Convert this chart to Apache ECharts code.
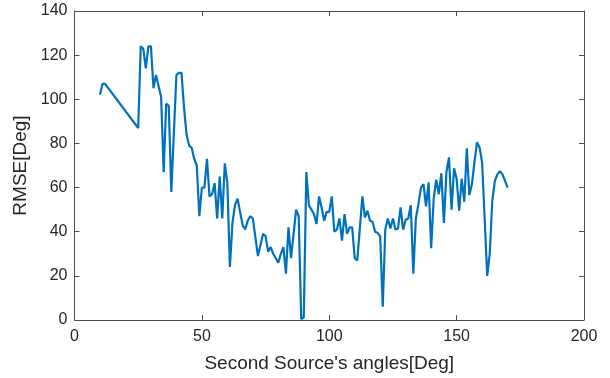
<!DOCTYPE html>
<html>
<head>
<meta charset="utf-8">
<script src="https://cdn.jsdelivr.net/npm/echarts@6/dist/echarts.min.js"></script>
<style>
html,body{margin:0;padding:0;background:#fff;}
#chart{width:610px;height:378px;}
</style>
</head>
<body>
<div id="chart"></div>
<script>
// Angles (deg) and RMSE (deg)
var angles = [10,11,12,25,26,27,28,29,30,31,32,33,34,35,36,37,38,40,41,42,43,44,45,46,47,48,49,50,51,52,53,54,55,56,57,58,59,60,61,62,63,64,65,66,67,68,69,70,72,73,74,75,76,77,78,79,80,81,82,83,84,85,87,88,89,90,91,92,93,94,95,96,97,98,99,100,101,102,103,104,105,106,107,108,109,110,111,113,114,115,116,117,118,119,120,121,122,123,124,125,126,127,128,129,130,131,132,133,134,135,136,137,138,139,140,141,142,143,144,145,146,147,148,149,150,151,152,153,154,155,156,157,158,159,160,161,162,163,164,165,166,167,168,169,170];
var rmse = [102,107,107,87,124,123,114,124,124,105,111,106,101,67,98,97,58,111,112,112,96,84,79,78,73,70,47,60,60,73,56,57,62,46,65,46,71,62,24,44,52,55,49,43,41,45,47,46,29,34,39,38,31,33,30,28,26,30,33,21,42,28,50,47,0.5,1,67,52,50,48,43.5,56,51,45,49,49,56,40,41,46,36,48,39,42,42,28,27,56,46.5,49.5,45,44.5,40,39.4,38,6,41,46,41.5,46,41,41.5,51,41,45.4,46,52,21,46,52.5,60,61.6,51.5,62.4,32.5,55,63.6,57,66.5,44,67,73.7,50,68.7,64,49.5,64,53.6,77.8,56.6,61.6,71.5,80.5,78.2,71.5,46,20,30,54,63,66,67.4,66,63,60];
var xTicks = [0,50,100,150,200];
var yTicks = [0,20,40,60,80,100,120,140];

var pts = angles.map(function(a,i){return [a, rmse[i]];});
var txt = '#262626';
var axc = '#4d4d4d';
var font = "'Liberation Sans', Arial, Helvetica, sans-serif";

var chart = echarts.init(document.getElementById('chart'), null, {renderer:'canvas'});
chart.setOption({
  backgroundColor:'#fff',
  animation:false,
  grid:{left:74.5, right:26, top:11, bottom:56, containLabel:false},
  xAxis:[{
    type:'value', min:xTicks[0], max:xTicks[xTicks.length-1], interval:50,
    name:"Second Source's angles[Deg]", nameLocation:'middle', nameGap:34,
    nameTextStyle:{color:txt, fontSize:19, fontFamily:font},
    axisLine:{show:true, onZero:false, lineStyle:{color:axc, width:1}},
    axisTick:{show:true, inside:true, length:5, lineStyle:{color:axc}},
    axisLabel:{color:txt, fontSize:16, fontFamily:font, margin:9},
    splitLine:{show:false}
  },{
    type:'value', position:'top', min:xTicks[0], max:xTicks[xTicks.length-1], interval:50,
    axisLine:{show:true, onZero:false, lineStyle:{color:axc, width:1}},
    axisTick:{show:true, inside:true, length:5, lineStyle:{color:axc}},
    axisLabel:{show:false}, splitLine:{show:false}
  }],
  yAxis:[{
    type:'value', min:yTicks[0], max:yTicks[yTicks.length-1], interval:20,
    name:'RMSE[Deg]', nameLocation:'middle', nameGap:42,
    nameTextStyle:{color:txt, fontSize:19, fontFamily:font},
    axisLine:{show:true, onZero:false, lineStyle:{color:axc, width:1}},
    axisTick:{show:true, inside:true, length:5, lineStyle:{color:axc}},
    axisLabel:{color:txt, fontSize:16, fontFamily:font, margin:7},
    splitLine:{show:false}
  },{
    type:'value', position:'right', min:yTicks[0], max:yTicks[yTicks.length-1], interval:20,
    axisLine:{show:true, onZero:false, lineStyle:{color:axc, width:1}},
    axisTick:{show:true, inside:true, length:5, lineStyle:{color:axc}},
    axisLabel:{show:false}, splitLine:{show:false}
  }],
  series:[{
    type:'line', data:pts, xAxisIndex:0, yAxisIndex:0,
    showSymbol:false, symbol:'none', smooth:false,
    lineStyle:{color:'#0072BD', width:2.2}, clip:true
  }]
});
</script>
</body>
</html>
